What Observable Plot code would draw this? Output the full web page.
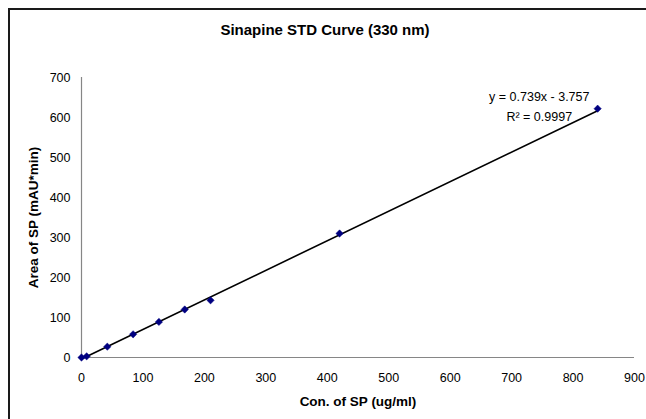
<!DOCTYPE html>
<html>
<head>
<meta charset="utf-8">
<script src="https://cdn.jsdelivr.net/npm/d3@7"></script>
<script src="https://cdn.jsdelivr.net/npm/@observablehq/plot@0.6"></script>
<style>
  html, body { margin: 0; padding: 0; background: #fff; overflow: hidden; }
  #wrap { position: relative; width: 646px; height: 419px; overflow: hidden; font-family: "Liberation Sans", Arial, sans-serif; }
  #frame { position: absolute; left: 8px; top: 8px; width: 800px; height: 600px; border: 2px solid #1a1a1a; box-sizing: border-box; }
  #title { position: absolute; left: 0; width: 650px; top: 21px; text-align: center; font-weight: bold; font-size: 15px; color: #000; }
  #chart { position: absolute; left: 0; top: 0; }
</style>
</head>
<body>
<div id="wrap">
  <div id="frame"></div>
  <div id="chart"></div>
  <div id="title">Sinapine STD Curve (330 nm)</div>
</div>
<script>
const concentration = [0, 8.4, 42, 84, 126, 168, 210, 420, 840];
const area = [0, 3, 27, 58, 89, 120, 143, 310, 622];
const slope = 0.739;
const intercept = -3.757;
const fitRange = [0, 840];
const xTicks = [0, 100, 200, 300, 400, 500, 600, 700, 800, 900];
const yTicks = [0, 100, 200, 300, 400, 500, 600, 700];
const equationText = ["y = 0.739x - 3.757", "R² = 0.9997"];
const equationAnchor = [745, 622];

const points = concentration.map((c, i) => ({x: c, y: area[i]}));
const fit = fitRange.map(x => ({x, y: slope * x + intercept}));

const chart = Plot.plot({
  width: 646,
  height: 419,
  marginLeft: 81,
  marginRight: 12,
  marginTop: 77,
  marginBottom: 62,
  style: {fontFamily: "'Liberation Sans', Arial, sans-serif", fontSize: "12.5px", color: "#000", background: "transparent"},
  x: {domain: [0, 900], ticks: xTicks},
  y: {domain: [0, 700], ticks: yTicks},
  marks: [
    Plot.ruleX([0], {stroke: "#868686", strokeWidth: 1.2}),
    Plot.ruleY([0], {stroke: "#868686", strokeWidth: 1.2}),
    Plot.axisX({ticks: xTicks, tickSize: 0, tickPadding: 16, fontSize: 12.5, label: null}),
    Plot.axisX({ticks: [], label: "Con. of SP (ug/ml)", labelAnchor: "center", labelArrow: "none", labelOffset: 48, fontSize: 13.5}),
    Plot.axisY({ticks: yTicks, tickSize: 0, tickPadding: 11, fontSize: 12.5, label: null}),
    Plot.axisY({ticks: [], label: "Area of SP (mAU*min)", labelAnchor: "center", labelArrow: "none", labelOffset: 53, fontSize: 13.5}),
    Plot.line(fit, {x: "x", y: "y", stroke: "#000", strokeWidth: 1.6, clip: false}),
    Plot.dot(points, {x: "x", y: "y", symbol: "diamond2", r: 3.3, fill: "#000080", stroke: "#000080", strokeWidth: 0.5}),
    Plot.text([equationText.join("\n")], {x: () => equationAnchor[0], y: () => equationAnchor[1], text: d => d, textAnchor: "middle", lineAnchor: "middle", lineHeight: 1.6, fontSize: 12.5, fill: "#000", dy: -4})
  ]
});
chart.querySelectorAll("[aria-label='x-axis label'] text, [aria-label='y-axis label'] text").forEach(t => t.setAttribute("font-weight", "bold"));
document.getElementById("chart").appendChild(chart);
</script>
</body>
</html>
